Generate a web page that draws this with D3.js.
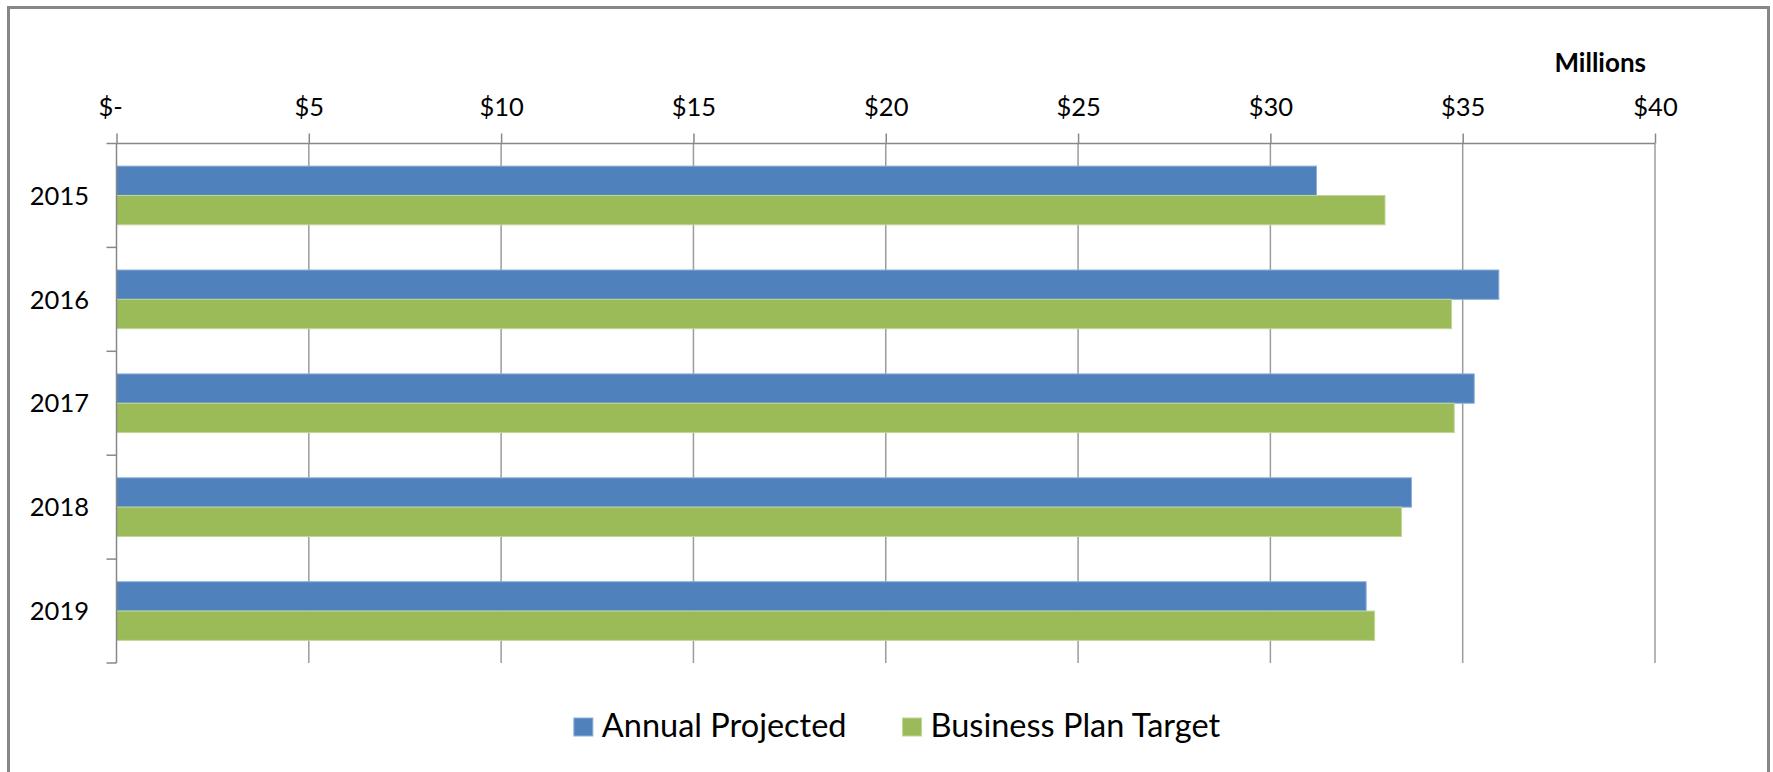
<!DOCTYPE html>
<html>
<head>
<meta charset="utf-8">
<script src="https://cdn.jsdelivr.net/npm/d3@7"></script>
<style>
    body { margin: 0; background: #fff; }
    text { font-family: Lato, "Open Sans", sans-serif; fill: #000; }
</style>
</head>
<body>
<div id="chart"></div>
<script>
// data (millions of dollars)
const years = ["2015", "2016", "2017", "2018", "2019"];
const seriesNames = ["Annual Projected", "Business Plan Target"];
const annualProjected = [31.2, 35.94, 35.3, 33.67, 32.49];
const businessPlanTarget = [32.98, 34.71, 34.78, 33.41, 32.71];
const xTicks = [0, 5, 10, 15, 20, 25, 30, 35, 40];
const colors = ["#4f81bd", "#9bbb59"];
const edgeColors = ["#8fb0d8", "#c0d699"];

var width = 1773;
var height = 772;

let svg = d3.select("#chart")
    .append("svg")
    .attr("width", width)
    .attr("height", height);

// outer chart border
svg.append("rect")
    .attr("x", 8.5)
    .attr("y", 7.5)
    .attr("width", 1760)
    .attr("height", 820)
    .attr("fill", "#fff")
    .attr("stroke", "#878787")
    .attr("stroke-width", 3);

// scales
let x = d3.scaleLinear().domain([0, 40]).range([116.5, 1655]);
let y = d3.scaleBand().domain(years).range([143.5, 663]).padding(0);
let ySub = d3.scaleBand().domain(seriesNames).range([0, y.bandwidth()])
    .paddingInner(0).paddingOuter(0.77);

let rows = years.map((yr, i) => ({
    year: yr,
    values: [annualProjected[i], businessPlanTarget[i]]
}));

// vertical gridlines
svg.append("g")
    .selectAll("line")
    .data(xTicks.filter(d => d > 0))
    .enter()
    .append("line")
    .attr("x1", d => x(d))
    .attr("x2", d => x(d))
    .attr("y1", y.range()[0])
    .attr("y2", y.range()[1])
    .attr("stroke", "#9c9c9c")
    .attr("stroke-width", 1.5);

// bars
let group = svg.append("g")
    .selectAll("g")
    .data(rows)
    .enter()
    .append("g")
    .attr("transform", d => "translate(0," + y(d.year) + ")");

group.selectAll("rect")
    .data(d => d.values.map((v, i) => ({name: seriesNames[i], value: v, idx: i})))
    .enter()
    .append("rect")
    .attr("x", x(0))
    .attr("y", d => ySub(d.name))
    .attr("width", d => x(d.value) - x(0))
    .attr("height", ySub.bandwidth())
    .attr("fill", d => colors[d.idx])
    .attr("stroke", d => edgeColors[d.idx])
    .attr("stroke-width", 1);

// top axis
let xAxis = d3.axisTop(x)
    .tickValues(xTicks)
    .tickSize(10)
    .tickPadding(18)
    .tickFormat(d => d === 0 ? "$-" : "$" + d);

let gx = svg.append("g")
    .attr("transform", "translate(0," + y.range()[0] + ")")
    .call(xAxis);

gx.select(".domain").attr("stroke", "#888").attr("stroke-width", 1.5)
    .attr("d", "M" + x(0) + ",0H" + x(40));
gx.selectAll(".tick line").attr("stroke", "#888").attr("stroke-width", 1.5);
gx.selectAll(".tick text")
    .attr("font-size", 25.5)
    .attr("fill", "#000")
    .attr("dx", d => d === 0 ? "-0.25em" : 0);

// left axis: line, tick marks between categories, labels centred on bands
let gy = svg.append("g");
let boundaries = years.map(d => y(d)).concat([y.range()[1]]);

gy.append("line")
    .attr("x1", x(0)).attr("x2", x(0))
    .attr("y1", y.range()[0]).attr("y2", y.range()[1])
    .attr("stroke", "#888").attr("stroke-width", 1.5);

gy.selectAll("line.tick")
    .data(boundaries)
    .enter()
    .append("line")
    .attr("class", "tick")
    .attr("x1", x(0) - 10).attr("x2", x(0))
    .attr("y1", d => d).attr("y2", d => d)
    .attr("stroke", "#888").attr("stroke-width", 1.5);

gy.selectAll("text")
    .data(years)
    .enter()
    .append("text")
    .attr("x", 89)
    .attr("y", d => y(d) + y.bandwidth() / 2)
    .attr("dy", "0.36em")
    .attr("text-anchor", "end")
    .attr("font-size", 25.5)
    .text(d => d);

// display units label
svg.append("text")
    .attr("x", 1646)
    .attr("y", 72)
    .attr("text-anchor", "end")
    .attr("font-size", 26)
    .attr("font-weight", "bold")
    .text("Millions");

// legend
let legend = svg.append("g");
let items = legend.selectAll("g")
    .data(seriesNames)
    .enter()
    .append("g");

items.append("rect")
    .attr("width", 19)
    .attr("height", 18)
    .attr("y", -19)
    .attr("fill", (d, i) => colors[i])
    .attr("stroke", (d, i) => edgeColors[i]);

items.append("text")
    .attr("x", 28)
    .attr("font-size", 32.5)
    .text(d => d);

let offset = 0;
items.each(function(d, i){
    d3.select(this).attr("transform", "translate(" + offset + ",0)");
    let w = d3.select(this).select("text").node().getComputedTextLength();
    offset += 28 + w + 56;
});
let legendWidth = offset - 56;
legend.attr("transform", "translate(" + (897 - legendWidth / 2) + ",737)");
</script>
</body>
</html>
